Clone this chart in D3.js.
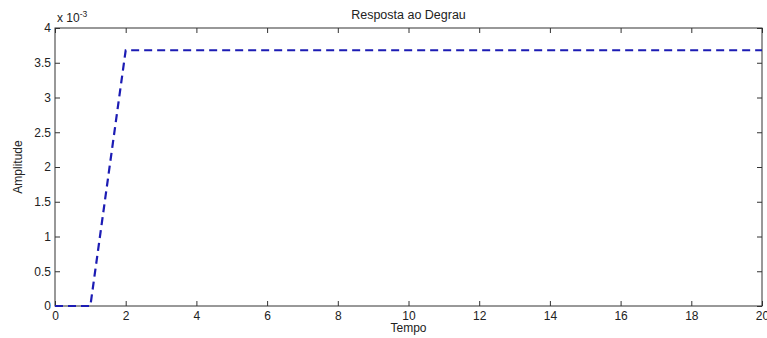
<!DOCTYPE html>
<html>
<head>
<meta charset="utf-8">
<script src="https://cdn.jsdelivr.net/npm/d3@7"></script>
<style>
  body { margin: 0; background: #fff; }
  text { font-family: "Liberation Sans", Arial, sans-serif; fill: #222; }
</style>
</head>
<body>
<svg width="767" height="338"></svg>
<script>
// step response samples (amplitude in units of 1e-3)
var tempo = d3.range(0, 21);
var amplitude = [0, 0, 3.68, 3.68, 3.68, 3.68, 3.68, 3.68, 3.68, 3.68, 3.68,
  3.68, 3.68, 3.68, 3.68, 3.68, 3.68, 3.68, 3.68, 3.68, 3.68];
var xTicks = [0, 2, 4, 6, 8, 10, 12, 14, 16, 18, 20];
var yTicks = [0, 0.5, 1, 1.5, 2, 2.5, 3, 3.5, 4];

var m = { left: 55, top: 28, right: 5, bottom: 32 };
var W = 767, H = 338;
var svg = d3.select('svg');
var g = svg.append('g').attr('transform', 'translate(' + m.left + ',' + m.top + ')');
var w = W - m.left - m.right, h = H - m.top - m.bottom;

var x = d3.scaleLinear().domain([0, 20]).range([0, w]);
var y = d3.scaleLinear().domain([0, 4]).range([h, 0]);

// ticks on all four sides, pointing inward
function ticks(sel, axis) {
  sel.call(axis);
  sel.select('.domain').remove();
  sel.selectAll('line').attr('stroke', '#333');
  sel.selectAll('text').style('font-size', '12px').attr('fill', '#333');
}
g.append('g').attr('transform', 'translate(0,' + h + ')')
  .call(ticks, d3.axisBottom(x).tickValues(xTicks).tickSize(-5).tickPadding(5).tickFormat(d3.format('d')));
g.append('g')
  .call(ticks, d3.axisTop(x).tickValues(xTicks).tickSize(-5).tickFormat(''));
g.append('g')
  .call(ticks, d3.axisLeft(y).tickValues(yTicks).tickSize(-5).tickPadding(4).tickFormat(function(d) { return String(d); }));
g.append('g').attr('transform', 'translate(' + w + ',0)')
  .call(ticks, d3.axisRight(y).tickValues(yTicks).tickSize(-5).tickFormat(''));

g.append('rect').attr('width', w).attr('height', h)
  .attr('fill', 'none').attr('stroke', '#333').attr('stroke-width', 1);

var line = d3.line()
  .x(function(d, i) { return x(tempo[i]); })
  .y(function(d) { return y(d); });

g.append('path').datum(amplitude)
  .attr('d', line)
  .attr('fill', 'none')
  .attr('stroke', '#1c1cb4')
  .attr('stroke-width', 2.2)
  .attr('stroke-dasharray', '8,5');

svg.append('text').attr('x', m.left + w / 2).attr('y', 19)
  .attr('text-anchor', 'middle').style('font-size', '12.5px').text('Resposta ao Degrau');
svg.append('text').attr('x', m.left + w / 2).attr('y', 332)
  .attr('text-anchor', 'middle').style('font-size', '12px').text('Tempo');
svg.append('text').attr('transform', 'translate(22,' + (m.top + h / 2) + ') rotate(-90)')
  .attr('text-anchor', 'middle').style('font-size', '12px').text('Amplitude');

var mult = svg.append('text').attr('x', 57).attr('y', 22).style('font-size', '12px');
mult.append('tspan').text('x 10');
mult.append('tspan').attr('dy', -5).style('font-size', '8.5px').text('-3');
</script>
</body>
</html>
